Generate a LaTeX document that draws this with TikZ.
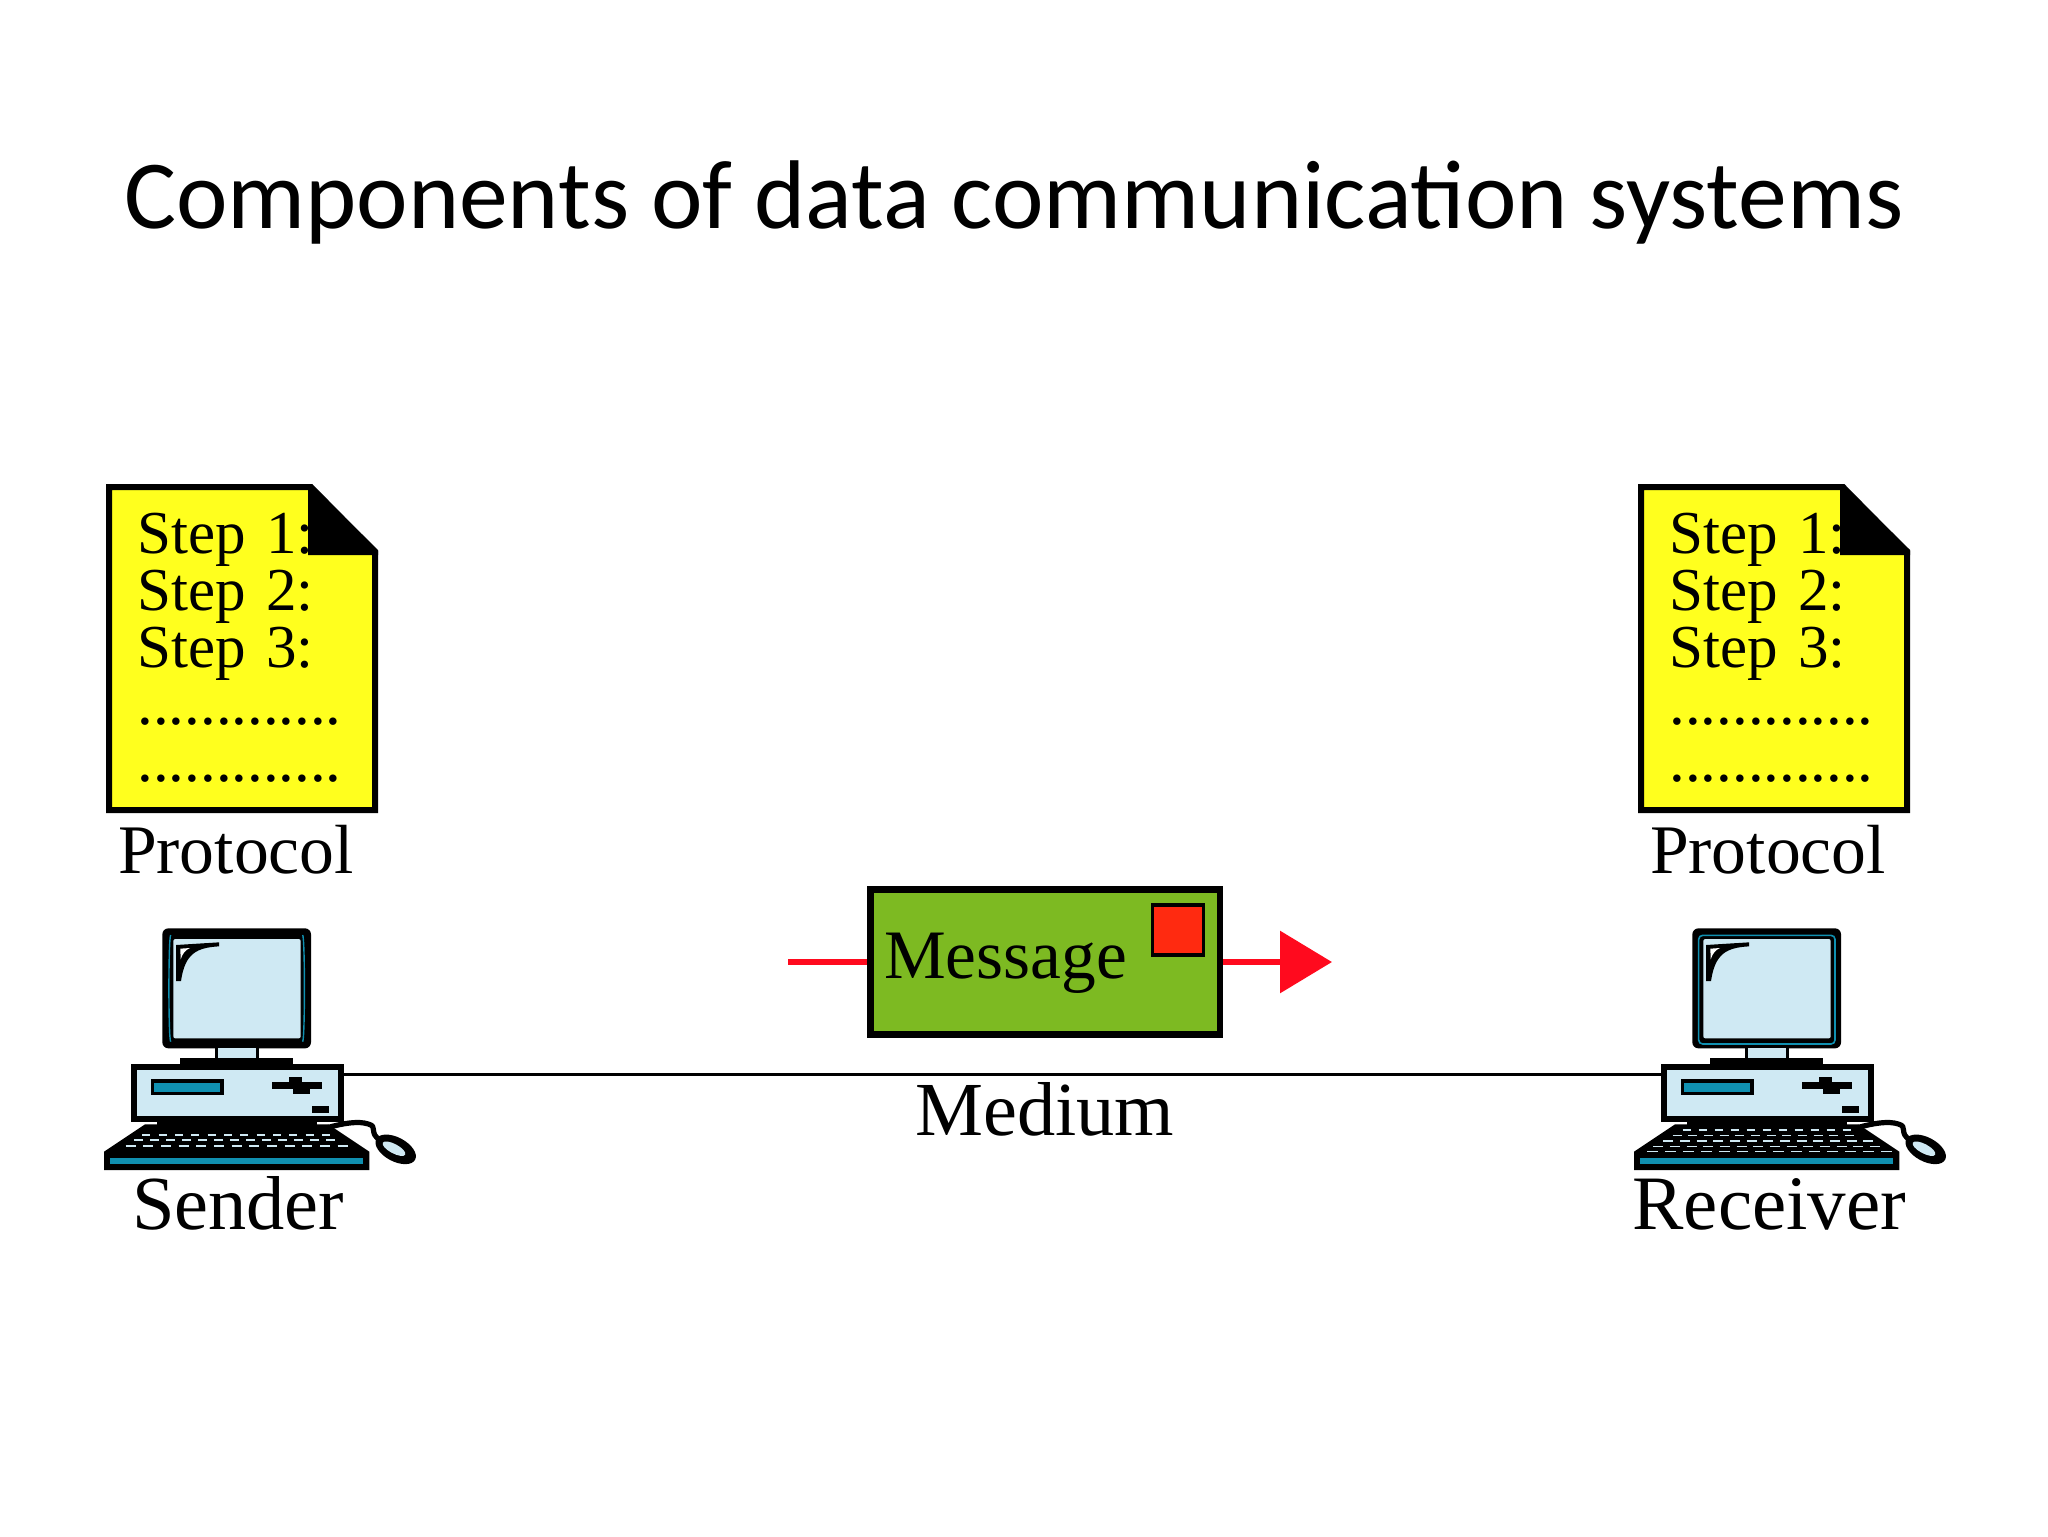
\documentclass[tikz,border=0pt]{standalone}
\usepackage{fontspec}
\setmainfont{Liberation Serif}
\newfontfamily\titlefont{Carlito}
\usetikzlibrary{arrows.meta}
\definecolor{docyellow}{HTML}{FFFF1E}
\definecolor{msggreen}{HTML}{7DBA22}
\definecolor{stampred}{HTML}{FF2A10}
\definecolor{arrowred}{HTML}{FF0A1E}
\definecolor{screenblue}{HTML}{CFE9F3}
\definecolor{tealblue}{HTML}{1090B0}
\tikzset{
  lbl/.style={anchor=base west,inner sep=0pt,outer sep=0pt,text=black},
  lblsm/.style={lbl,font=\fontsize{34.8}{34.8}\selectfont},
  lblbig/.style={lbl,font=\fontsize{38.2}{38.2}\selectfont},
  steptxt/.style={lbl,font=\fontsize{30.5}{30.5}\selectfont},
  dottxt/.style={lbl,font=\fontsize{31.4}{31.4}\selectfont},
  docsheet/.style={draw=black,fill=docyellow,line width=3pt,miter limit=10},
  keyrow/.style={draw=screenblue,line width=1.1pt},
  msgbox/.style={draw=black,fill=msggreen,line width=3.25pt,minimum width=174.75pt,minimum height=72.5pt,inner sep=0pt},
  redline/.style={draw=arrowred,line width=3.2pt},
  wire/.style={draw=black,line width=1.7pt}
}
% #1 name prefix, #2 origin x, #3 framing code, #4 keyboard rows, #5 port x
\newcommand{\compu}[5]{%
\begin{scope}[shift={(#2,910)},x=0.16667pt,y=-0.16667pt]
  % mouse and cable
  \draw[black,line width=2.6pt,line join=round] (745,652) .. controls (790,640) and (835,632) .. (865,642) .. controls (895,650) and (865,668) .. (900,690);
  \fill[black,rotate around={-28:(947,718)}] (947,718) ellipse (66 and 36);
  \fill[screenblue,rotate around={-28:(942,716)}] (942,716) ellipse (38 and 14);
  % monitor
  \fill[black,rounded corners=3pt] (247,55) rectangle (693,415);
  #3
  \fill[screenblue,rounded corners=1pt] (280,87) rectangle (662,385);
  \fill[black] (288,105) -- (417,97) -- (417,109) .. controls (350,113) and (315,130) .. (303,213) -- (288,213) -- cycle;
  \fill[white] (301,116) -- (330,114) .. controls (316,120) and (308,130) .. (302,148) -- cycle;
  % neck and base
  \fill[black] (405,415) rectangle (537,445);
  \fill[screenblue] (415,415) rectangle (527,443);
  \fill[black] (300,443) rectangle (640,465);
  % case
  \fill[black] (152,462) rectangle (793,635);
  \fill[screenblue] (170,480) rectangle (775,618);
  \fill[black] (212,507) rectangle (432,556);
  \fill[tealblue] (222,520) rectangle (420,545);
  \fill[black] (577,515) rectangle (727,538);
  \fill[black] (627,501) rectangle (665,515);
  \fill[black] (640,538) rectangle (690,552);
  \fill[black] (697,588) rectangle (747,610);
  \coordinate (#1port) at (#5,493);
  % keyboard
  \fill[black] (230,635) rectangle (710,645);
  \fill[black] (195,643) -- (745,643) -- (868,725) -- (868,780) -- (72,780) -- (72,725) -- cycle;
  \fill[tealblue] (90,743) rectangle (850,763);
  #4
\end{scope}}
\newcommand{\sframe}{%
  \draw[tealblue,line width=0.7pt] (272,75) .. controls (265,85) and (265,385) .. (272,395);
  \draw[tealblue,line width=0.7pt] (668,75) .. controls (675,85) and (675,385) .. (668,395);}
\newcommand{\rframe}{%
  \draw[tealblue,line width=0.8pt,rounded corners=2pt] (266,76) rectangle (675,402);}
\newcommand{\skeys}{%
  \foreach \i in {0,...,11}{\draw[keyrow] ({187+\i*49},674) -- +(24,0);}
  \foreach \i in {0,...,12}{\draw[keyrow] ({162+\i*48},690) -- +(28,0);}
  \foreach \i in {0,...,12}{\draw[keyrow] ({137+\i*53},708) -- +(30,0);}}
\newcommand{\rkeys}{%
  \foreach \i in {0,...,10}{\draw[keyrow,line width=0.6pt] ({218+\i*48},660) -- +(25,0);}
  \foreach \i in {0,...,11}{\draw[keyrow,line width=0.6pt] ({188+\i*47},676) -- +(27,0);}
  \foreach \i in {0,...,12}{\draw[keyrow] ({160+\i*50},692) -- +(30,0);}
  \foreach \i in {0,...,13}{\draw[keyrow,line width=0.6pt] ({130+\i*50},709) -- +(30,0);}
  \foreach \i in {0,...,13}{\draw[keyrow,line width=0.6pt] ({112+\i*54},725) -- +(32,0);}}
\begin{document}
\begin{tikzpicture}[x=0.5pt,y=-0.5pt]
\useasboundingbox (0,0) rectangle (2048,1536);
\fill[white] (0,0) rectangle (2048,1536);
\node[lbl,font=\titlefont\fontsize{48.8}{48.8}\selectfont] (title) at (124,228) {Components of data communication systems};

% protocol sheets
\foreach \nm/\dx in {a/0,b/766}{
\begin{scope}[xshift=\dx pt]
  \path[docsheet] (109,487) -- (311,487) -- (375,552) -- (375,810) -- (109,810) -- cycle;
  \node[steptxt] (step1\nm) at (137.5,553) {Step\hspace{2.6pt} 1:};
  \node[steptxt] (step2\nm) at (137.5,610) {Step\hspace{2.6pt} 2:};
  \node[steptxt] (step3\nm) at (137.5,667) {Step\hspace{2.6pt} 3:};
  \node[dottxt] (dots1\nm) at (137.5,724) {.............};
  \node[dottxt] (dots2\nm) at (137.5,781) {.............};
  \fill[black] (308,485) -- (312,485) -- (378,550) -- (378,555) -- (308,555) -- cycle;
  \node[lblsm] (protocol\nm) at (118,873) {Protocol};
\end{scope}}

% computers
\compu{sender}{80}{\sframe}{\skeys}{793}
\compu{receiver}{1610}{\rframe}{\rkeys}{153}

\node[lblbig] (sender) at (132,1229) {Sender};
\node[lbl,font=\fontsize{38.5}{38.5}\selectfont] (receiver) at (1632.5,1229) {Receiver};
\node[lblbig] (medium) at (915.5,1135) {Medium};
\draw[wire] (senderport) -- (receiverport);

% message
\node[msgbox] (message) at (1045.25,962) {};
\node[lbl,font=\fontsize{34.7}{34.7}\selectfont] (msgtext) at (884,978) {Message};
\node[draw=black,fill=stampred,line width=1.75pt,minimum width=25.4pt,minimum height=25.2pt,inner sep=0pt,outer sep=0pt] (stamp) at (1178,930) {};
\coordinate (msgstart) at (788,962);
\coordinate (msgtip) at (1332,962);
\draw[redline] (msgstart) -- (message.west);
\draw[redline,-{Triangle[length=26pt,width=30.5pt]},arrowred] (message.east) -- (msgtip);
\end{tikzpicture}
\end{document}
